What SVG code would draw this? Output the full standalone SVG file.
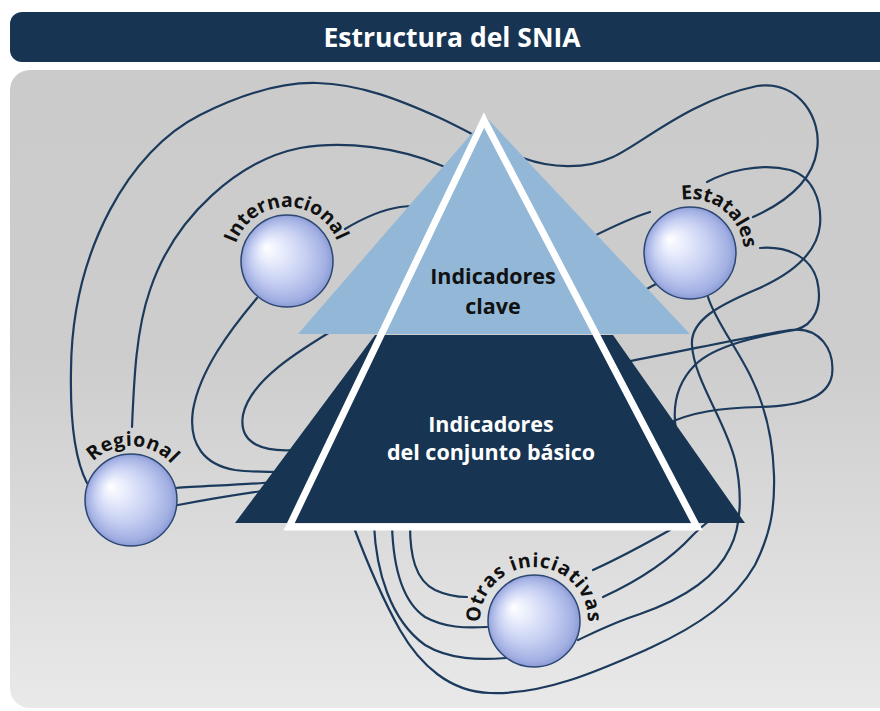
<svg xmlns="http://www.w3.org/2000/svg" width="880" height="711" viewBox="0 0 880 711">
<defs>
<linearGradient id="panelGrad" x1="0" y1="0" x2="0" y2="1">
<stop offset="0" stop-color="#cbcbcb"/>
<stop offset="0.45" stop-color="#cdcdcd"/>
<stop offset="1" stop-color="#e9e9e9"/>
</linearGradient>
<radialGradient id="sphereGrad" cx="0.5" cy="0.5" r="0.5" fx="0.27" fy="0.35">
<stop offset="0" stop-color="#ffffff"/>
<stop offset="0.25" stop-color="#e8ecfc"/>
<stop offset="0.6" stop-color="#c6cff2"/>
<stop offset="0.9" stop-color="#a2afe2"/>
<stop offset="1" stop-color="#8b9bd6"/>
</radialGradient>
<path id="arcInt" d="M287,315 A54,54 0 1 1 287,207 A54,54 0 1 1 287,315"/>
<path id="arcEst" d="M690,307 A54,54 0 1 1 690,199 A54,54 0 1 1 690,307"/>
<path id="arcReg" d="M131,554 A54,54 0 1 1 131,446 A54,54 0 1 1 131,554"/>
<path id="arcOtr" d="M534,675 A54,54 0 1 1 534,567 A54,54 0 1 1 534,675"/>
<style>
.conn{fill:none;stroke:#1b3a5c;stroke-width:2.2;stroke-linecap:round}
.sphere{fill:url(#sphereGrad);stroke:#2c4772;stroke-width:1.5}
.lbl{font-family:"Open Sans","DejaVu Sans",sans-serif;font-weight:700;font-size:19.5px;fill:#111111}
.ptxt{font-family:"Open Sans","DejaVu Sans",sans-serif;font-weight:700;font-size:21.5px;text-anchor:middle}
</style>
</defs>
<g id="header">
<rect x="10" y="12" width="900" height="50" rx="12" fill="#173553"/>
<text x="452" y="47" text-anchor="middle" font-family="'Open Sans','DejaVu Sans',sans-serif" font-weight="700" font-size="26.5" fill="#ffffff">Estructura del SNIA</text>
</g>
<rect id="panel" x="10" y="70" width="900" height="638" rx="20" fill="url(#panelGrad)"/>
<g id="connectors">
<path class="conn" d="M87,483 C75,460 70,420 71,370 C72,250 130,150 200,115 C240,95 280,82 317,83 C360,84 400,100 440,118 C470,132 500,150 523,158 C550,168 585,170 613,157 C640,145 690,100 757,86 C800,80 822,120 817,150 C812,185 780,205 753,217"/>
<path class="conn" d="M132,427 C134,380 136,330 150,290 C175,215 240,160 300,148 C345,140 400,148 440,165 C460,173 480,185 500,195"/>
<path class="conn" d="M345,229 C360,220 380,210 400,207 C415,205 430,206 445,210"/>
<path class="conn" d="M257,298 C230,330 200,370 193,410 C188,445 205,465 235,470 C250,472 265,472 285,472"/>
<path class="conn" d="M340,326 C300,350 250,380 243,415 C238,445 265,452 295,450"/>
<path class="conn" d="M176,488 C200,486 240,485 275,482"/>
<path class="conn" d="M178,505 C205,500 240,494 270,490"/>
<path class="conn" d="M590,238 C610,228 630,218 650,212"/>
<path class="conn" d="M630,300 C640,293 648,288 656,284"/>
<path class="conn" d="M707,182 C725,172 760,162 790,170 C812,176 822,200 820,225 C817,255 790,275 755,290 C720,305 690,320 692,345 C694,380 725,420 735,460 C742,490 742,525 730,548 C715,580 680,600 640,614 C615,622 595,632 578,640"/>
<path class="conn" d="M708,297 C715,320 735,345 750,375 C765,405 773,440 774,475 C775,510 770,535 755,565 C735,600 700,625 650,648 C600,670 545,695 490,693 C450,692 420,665 400,630 C382,598 368,565 353,525"/>
<path class="conn" d="M760,248 C785,246 810,255 817,280 C823,305 815,325 795,330 C760,336 715,345 695,365 C678,382 672,405 676,430"/>
<path class="conn" d="M625,362 C680,352 740,338 790,330 C820,326 835,350 832,375 C828,398 800,406 760,407 C720,408 690,412 665,425"/>
<path class="conn" d="M410,525 C410,555 415,580 435,590 C448,596 458,597 467,597"/>
<path class="conn" d="M392,525 C393,560 400,600 425,617 C445,628 465,628 487,627"/>
<path class="conn" d="M374,525 C376,570 390,620 425,645 C450,660 480,660 506,658"/>
<path class="conn" d="M593,570 C615,560 640,547 670,530"/>
<path class="conn" d="M603,597 C640,580 670,560 693,535 C700,528 710,520 720,512"/>
</g>
<g id="pyramid">
<polygon points="375,335 613,335 745,523 235,523" fill="#173553"/>
<polygon points="486,117 690,334 298,334" fill="#93b8d7"/>
<polygon points="484,120 697,527 289,527" fill="none" stroke="#ffffff" stroke-width="7" stroke-linejoin="miter"/>
<text class="ptxt" x="493" y="284" fill="#111111">Indicadores</text>
<text class="ptxt" x="493" y="314" fill="#111111">clave</text>
<text class="ptxt" x="491" y="432" fill="#ffffff">Indicadores</text>
<text class="ptxt" x="491" y="460" fill="#ffffff">del conjunto básico</text>
</g>
<g id="internacional">
<circle class="sphere" cx="287" cy="261" r="46"/>
<text class="lbl"><textPath href="#arcInt" startOffset="49.6%" text-anchor="middle">Internacional</textPath></text>
</g>
<g id="estatales">
<circle class="sphere" cx="690" cy="253" r="46"/>
<text class="lbl"><textPath href="#arcEst" startOffset="60.5%" text-anchor="middle">Estatales</textPath></text>
</g>
<g id="regional">
<circle class="sphere" cx="131" cy="500" r="46"/>
<text class="lbl" letter-spacing="0.5"><textPath href="#arcReg" startOffset="50.6%" text-anchor="middle">Regional</textPath></text>
</g>
<g id="otras">
<circle class="sphere" cx="534" cy="621" r="46"/>
<text class="lbl" letter-spacing="0.8"><textPath href="#arcOtr" startOffset="50%" text-anchor="middle">Otras iniciativas</textPath></text>
</g>
</svg>
